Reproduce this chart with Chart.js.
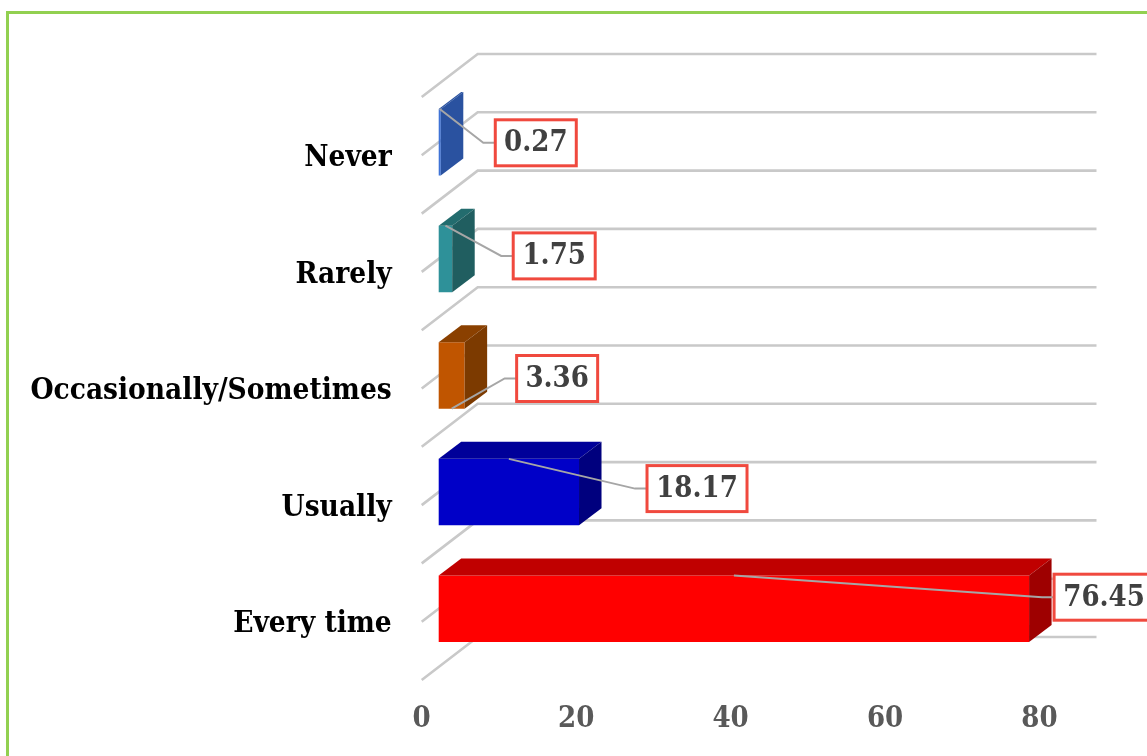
<!DOCTYPE html>
<html>
<head>
<meta charset="utf-8">
<title>Frequency chart</title>
<script src="https://cdn.jsdelivr.net/npm/chart.js@4"></script>
<style>
    html, body { margin: 0; padding: 0; background: #fff; overflow: hidden; }
    #wrap { position: relative; width: 1147px; height: 756px; overflow: hidden; }
    #frame { position: absolute; left: 6px; top: 11px; width: 1400px; height: 1000px; border: 3px solid #92d050; }
    canvas { position: absolute; left: 0; top: 0; }
</style>
</head>
<body>
<div id="wrap">
    <div id="frame"></div>
    <canvas id="chart" width="1147" height="756"></canvas>
</div>
<script>
const categories = ['Never', 'Rarely', 'Occasionally/Sometimes', 'Usually', 'Every time'];
const values = [0.27, 1.75, 3.36, 18.17, 76.45];
const xTicks = [0, 20, 40, 60, 80];

const frontColors = ['#3f73d6', '#2e9199', '#c05500', '#0000c8', '#ff0000'];
const topColors = ['#2a52a0', '#236c6e', '#8a4000', '#000099', '#c00000'];
const sideColors = ['#2a52a0', '#205e60', '#7c3a00', '#00007e', '#9e0000'];

const FONT = "'DejaVu Serif Condensed', 'DejaVu Serif', serif";

// fake 3D: wall depth, where the bar sits in it, and how deep the bar is
const WALL = { dx: 56, dy: -43 };
const BAR_SHIFT = { dx: 17, dy: -13 };
const BAR_DEPTH = { dx: 22.5, dy: -17 };

// callouts are hand placed, offsets are from the bar end / bar centre
const callouts = [
    { gap: 54.5, dy: 0.5, w: 81, from: 'top' },
    { gap: 61, dy: -3, w: 82, from: 'top' },
    { gap: 52, dy: 3, w: 81, from: 'bottom' },
    { gap: 68, dy: -3.5, w: 100, from: 'top' },
    { gap: 25, dy: -11.5, w: 100, from: 'top' }
];

function poly(ctx, pts, color) {
    ctx.beginPath();
    pts.forEach((p, i) => i ? ctx.lineTo(p[0], p[1]) : ctx.moveTo(p[0], p[1]));
    ctx.closePath();
    ctx.fillStyle = color;
    ctx.fill();
}

const fake3d = {
    id: 'fake3d',
    beforeDatasetsDraw(chart) {
        // walls and gridlines
        const { ctx, scales: { x, y } } = chart;
        const left = x.getPixelForValue(0);
        const right = x.getPixelForValue(80);
        const half = (y.getPixelForTick(1) - y.getPixelForTick(0)) / 2;
        const rows = [y.getPixelForTick(0) - half];
        categories.forEach((c, i) => {
            rows.push(y.getPixelForTick(i));
            rows.push(y.getPixelForTick(i) + half);
        });
        ctx.save();
        ctx.strokeStyle = '#c9c9c9';
        ctx.lineWidth = 2.6;
        rows.forEach(py => {
            ctx.beginPath();
            ctx.moveTo(left, py);
            ctx.lineTo(left + WALL.dx, py + WALL.dy);
            ctx.lineTo(right + WALL.dx + 1, py + WALL.dy);
            ctx.stroke();
        });
        ctx.restore();
    },
    beforeDatasetDraw(chart) {
        chart.ctx.save();
        chart.ctx.translate(BAR_SHIFT.dx, BAR_SHIFT.dy);
    },
    afterDatasetDraw(chart, args) {
        const ctx = chart.ctx;
        args.meta.data.forEach((bar, i) => {
            const top = bar.y - bar.height / 2;
            const bot = bar.y + bar.height / 2;
            const d = BAR_DEPTH;
            poly(ctx, [[bar.base, top], [bar.base + d.dx, top + d.dy], [bar.x + d.dx, top + d.dy], [bar.x, top]], topColors[i]);
            poly(ctx, [[bar.x, top], [bar.x + d.dx, top + d.dy], [bar.x + d.dx, bot + d.dy], [bar.x, bot]], sideColors[i]);
        });
        ctx.restore();
    },
    afterDatasetsDraw(chart) {
        const ctx = chart.ctx;
        const bars = chart.getDatasetMeta(0).data;
        ctx.save();
        bars.forEach((bar, i) => {
            const c = callouts[i];
            const end = bar.x + BAR_SHIFT.dx;
            const cy = bar.y + BAR_SHIFT.dy;
            const boxX = end + c.gap;
            const boxY = cy + c.dy;
            const startX = (bar.base + bar.x) / 2 + BAR_SHIFT.dx;
            const startY = cy + (c.from === 'top' ? -1 : 1) * bar.height / 2;

            ctx.beginPath();
            ctx.moveTo(startX, startY);
            ctx.lineTo(boxX - 12, boxY);
            ctx.lineTo(boxX, boxY);
            ctx.strokeStyle = '#a6a6a6';
            ctx.lineWidth = 2;
            ctx.stroke();

            ctx.fillStyle = '#fff';
            ctx.fillRect(boxX, boxY - 23, c.w, 46);
            ctx.strokeStyle = '#f0493e';
            ctx.lineWidth = 3;
            ctx.strokeRect(boxX, boxY - 23, c.w, 46);

            ctx.fillStyle = '#404040';
            ctx.font = 'bold 29px ' + FONT;
            ctx.textAlign = 'center';
            ctx.textBaseline = 'middle';
            ctx.fillText(values[i].toFixed(2), boxX + c.w / 2, boxY + 1);
        });
        ctx.restore();
    }
};

new Chart(document.getElementById('chart'), {
    type: 'bar',
    data: {
        labels: categories,
        datasets: [{
            data: values,
            backgroundColor: frontColors,
            borderWidth: 0,
            categoryPercentage: 1,
            barPercentage: 0.57,
            clip: false
        }]
    },
    options: {
        indexAxis: 'y',
        responsive: false,
        animation: false,
        layout: {
            autoPadding: false,
            padding: { left: 0, top: 97, right: 107.5, bottom: 0 }
        },
        plugins: {
            legend: { display: false },
            title: { display: false },
            tooltip: { enabled: false }
        },
        scales: {
            x: {
                min: 0,
                max: 80,
                afterFit: s => { s.height = 76; },
                afterBuildTicks: s => { s.ticks = xTicks.map(v => ({ value: v })); },
                grid: { display: false },
                border: { display: false },
                ticks: {
                    color: '#595959',
                    padding: 14,
                    maxRotation: 0,
                    font: { family: FONT, size: 29, weight: 'bold' }
                }
            },
            y: {
                afterFit: s => { s.width = 421.7; },
                grid: { display: false },
                border: { display: false },
                ticks: {
                    color: '#000',
                    padding: 22,
                    labelOffset: 3,
                    autoSkip: false,
                    font: { family: FONT, size: 29.5, weight: 'bold' }
                }
            }
        }
    },
    plugins: [fake3d]
});
</script>
</body>
</html>
